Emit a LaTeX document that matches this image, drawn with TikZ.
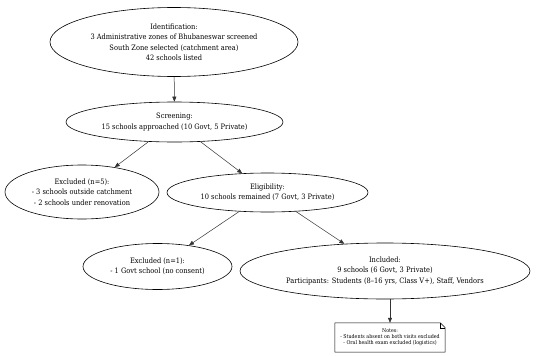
\documentclass[tikz,border=0pt]{standalone}
\usepackage{fontspec}
\setmainfont{DejaVu Serif Condensed}
\usetikzlibrary{shapes.geometric,arrows.meta}
\begin{document}
\begin{tikzpicture}[x=1pt,y=-1pt,
  stage/.style={ellipse,draw,line width=0.6pt,inner sep=0pt,align=center,font=\fontsize{7.4}{10.5}\selectfont},
  notebox/.style={inner sep=0pt,minimum width=110pt,minimum height=29pt,align=center,font=\fontsize{5.3}{6}\selectfont},
  flow/.style={-{Triangle[length=5pt,width=4pt]},line width=0.5pt,draw=black!80}]
\useasboundingbox (0,0) rectangle (536,356);
\node[stage,minimum width=248pt,minimum height=69pt] (id) at (174,42) {Identification:\\3 Administrative zones of Bhubaneswar screened\\South Zone selected (catchment area)\\42 schools listed};
\node[stage,minimum width=217pt,minimum height=40pt] (scr) at (174.5,122) {Screening:\\15 schools approached (10 Govt, 5 Private)};
\node[stage,minimum width=154pt,minimum height=54pt] (ex5) at (82,192) {Excluded (n=5):\\- 3 schools outside catchment\\- 2 schools under renovation};
\node[stage,minimum width=201pt,minimum height=39pt] (eli) at (267.5,192.5) {Eligibility:\\10 schools remained (7 Govt, 3 Private)};
\node[stage,minimum width=149pt,minimum height=46pt] (ex1) at (157.5,266.5) {Excluded (n=1):\\- 1 Govt school (no consent)};
\node[stage,minimum width=290pt,minimum height=56pt] (inc) at (385,271) {Included:\\9 schools (6 Govt, 3 Private)\\Participants: Students (8–16 yrs, Class V+), Staff, Vendors};
\node[notebox] (notes) at (390,337.5) {Notes:\\- Students absent on both visits excluded\\- Oral health exam excluded (logistics)};
\draw[line width=0.5pt] (notes.north west) -- ([xshift=-5pt]notes.north east) -- ([yshift=-5pt]notes.north east) -- (notes.south east) -- (notes.south west) -- cycle;
\draw[line width=0.4pt] ([xshift=-5pt]notes.north east) -- ([xshift=-5pt,yshift=-5pt]notes.north east) -- ([yshift=-5pt]notes.north east);
\draw[flow] (id) -- (scr);
\draw[flow] (scr) -- (ex5);
\draw[flow] (scr) -- (eli);
\draw[flow] (eli) -- (ex1);
\draw[flow] (eli) -- (inc);
\draw[flow] (inc.south -| notes.north) -- (notes.north);
\end{tikzpicture}
\end{document}
